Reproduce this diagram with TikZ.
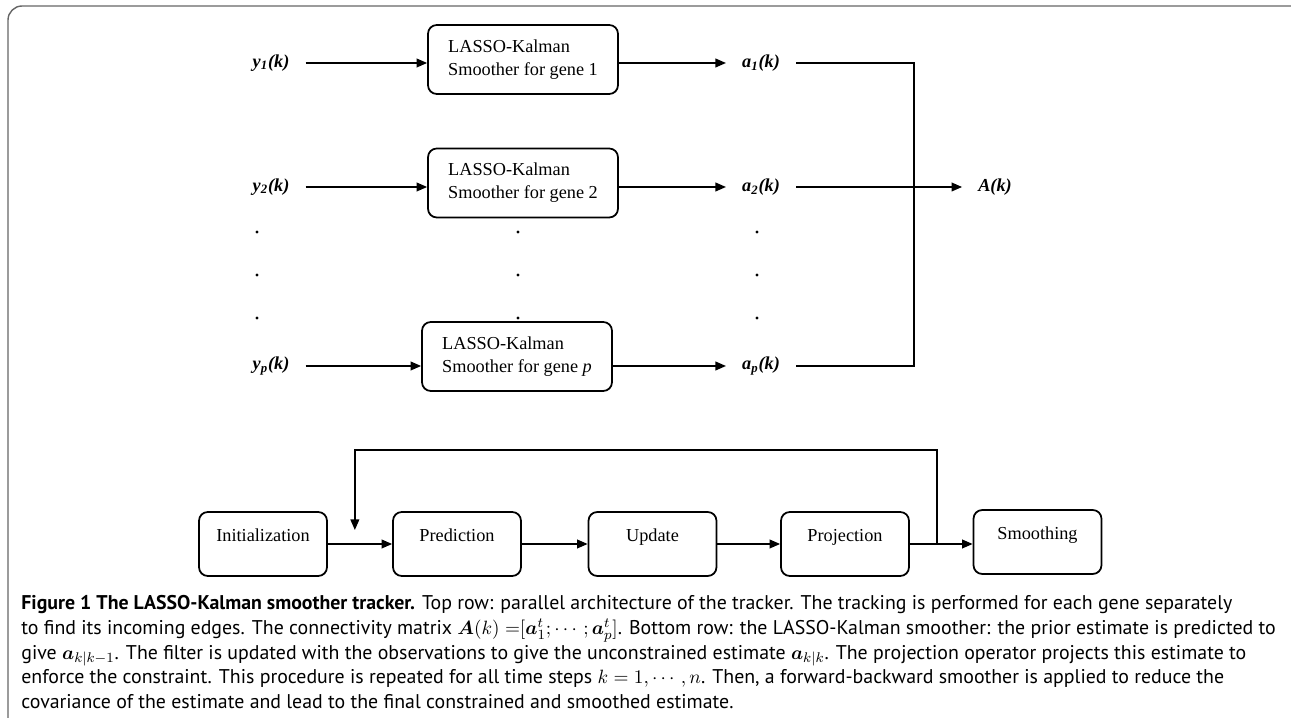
\documentclass[tikz,border=0pt]{standalone}
\usepackage{amsmath,bm}
\usepackage{fontspec}
\setmainfont{Liberation Serif}
\newfontfamily\capfont{PT Sans}
\usetikzlibrary{arrows.meta}
\usetikzlibrary{calc}

\begin{document}
\begin{tikzpicture}

        \tikzstyle{every node}=[font=\fontsize{10.4}{13}\selectfont]
        \tikzstyle{gene}=[draw,rounded corners=5pt,line width=1pt,minimum width=3.8cm,minimum height=1.38cm,align=left]
        \tikzstyle{stage}=[draw,rounded corners=5pt,line width=1pt,minimum width=2.56cm,minimum height=1.28cm,text height=7pt,text depth=10pt]
        \tikzstyle{sig}=[font=\fontsize{10.4}{13}\selectfont\bfseries\itshape,inner xsep=9pt]
        \tikzstyle{flow}=[-{Triangle[length=6pt,width=5pt]},line width=0.8pt]

        \useasboundingbox (0,0) rectangle (25.82,-14.36);
        \draw[gray!80!black,line width=0.8pt,rounded corners=8pt] (0.16,-14.36) -- (0.16,-0.12) -- (25.82,-0.12);

        % top row: one tracker per gene
        \foreach \n/\g/\ly/\bx/\by in {1/1/-1.26/10.46/-1.19, 2/2/-3.74/10.46/-3.66, p/\textit{p}/-7.32/10.34/-7.13} {
            \node[sig] (y_\n) at (5.42,\ly) {y\textsubscript{\n}(k)};
            \node[gene] (kf_\n) at (\bx,\by) {LASSO-Kalman\\Smoother for gene \g};
            \node[sig] (a_\n) at (15.22,\ly) {a\textsubscript{\n}(k)};
            \draw[flow] (y_\n) -- (y_\n -| kf_\n.west);
            \draw[flow] (kf_\n.east |- a_\n) -- (a_\n);
        }

        \foreach \x in {5.14,10.36,15.14}
            \foreach \y in {-4.64,-5.5,-6.36}
                \fill (\x,\y) circle (0.9pt);

        \coordinate (bus) at (18.28,-3.74);
        \node[sig] (A) at (19.9,-3.74) {A(k)};
        \draw[line width=0.8pt] (a_1) -- (a_1 -| bus) -- (a_p -| bus) -- (a_p);
        \draw[line width=0.8pt] (a_2) -- (a_2 -| bus);
        \draw[flow] (a_2 -| bus) -- (A);

        % bottom row: the smoother
        \foreach \s/\t/\x in {init/Initialization/5.26, pred/Prediction/9.14, upd/Update/13.05, proj/Projection/16.9}
            \node[stage] (\s) at (\x,-10.88) {\t};
        \node[stage] (smooth) at (20.75,-10.84) {Smoothing};

        \draw[flow] (init) -- (pred);
        \draw[flow] (pred) -- (upd);
        \draw[flow] (upd) -- (proj);
        \draw[flow] (proj) -- (proj -| smooth.west);

        \coordinate (back) at ($(proj.east)!0.43!(smooth.west |- proj.east)$);
        \coordinate (join) at ($(init.east)!0.42!(pred.west)$);
        \draw[flow] (back) -- ($(back)+(0,1.88)$) -| ($(join)+(0,0.28)$);

        \node[anchor=north west,align=left,inner sep=0pt,font=\capfont\fontsize{11.3}{14.1}\selectfont] (caption) at (0.42,-11.9) {\textbf{Figure 1 The LASSO-Kalman smoother tracker.} Top row: parallel architecture of the tracker. The tracking is performed for each gene separately\\
to find its incoming edges. The connectivity matrix $\bm{A}(k)\;{=}[\bm{a}_1^t;\cdots;\bm{a}_p^t]$. Bottom row: the LASSO-Kalman smoother: the prior estimate is predicted to\\
give $\bm{a}_{k|k-1}$. The filter is updated with the observations to give the unconstrained estimate $\bm{a}_{k|k}$. The projection operator projects this estimate to\\
enforce the constraint. This procedure is repeated for all time steps $k=1,\cdots,n$. Then, a forward-backward smoother is applied to reduce the\\
covariance of the estimate and lead to the final constrained and smoothed estimate.};

\end{tikzpicture}
\end{document}
